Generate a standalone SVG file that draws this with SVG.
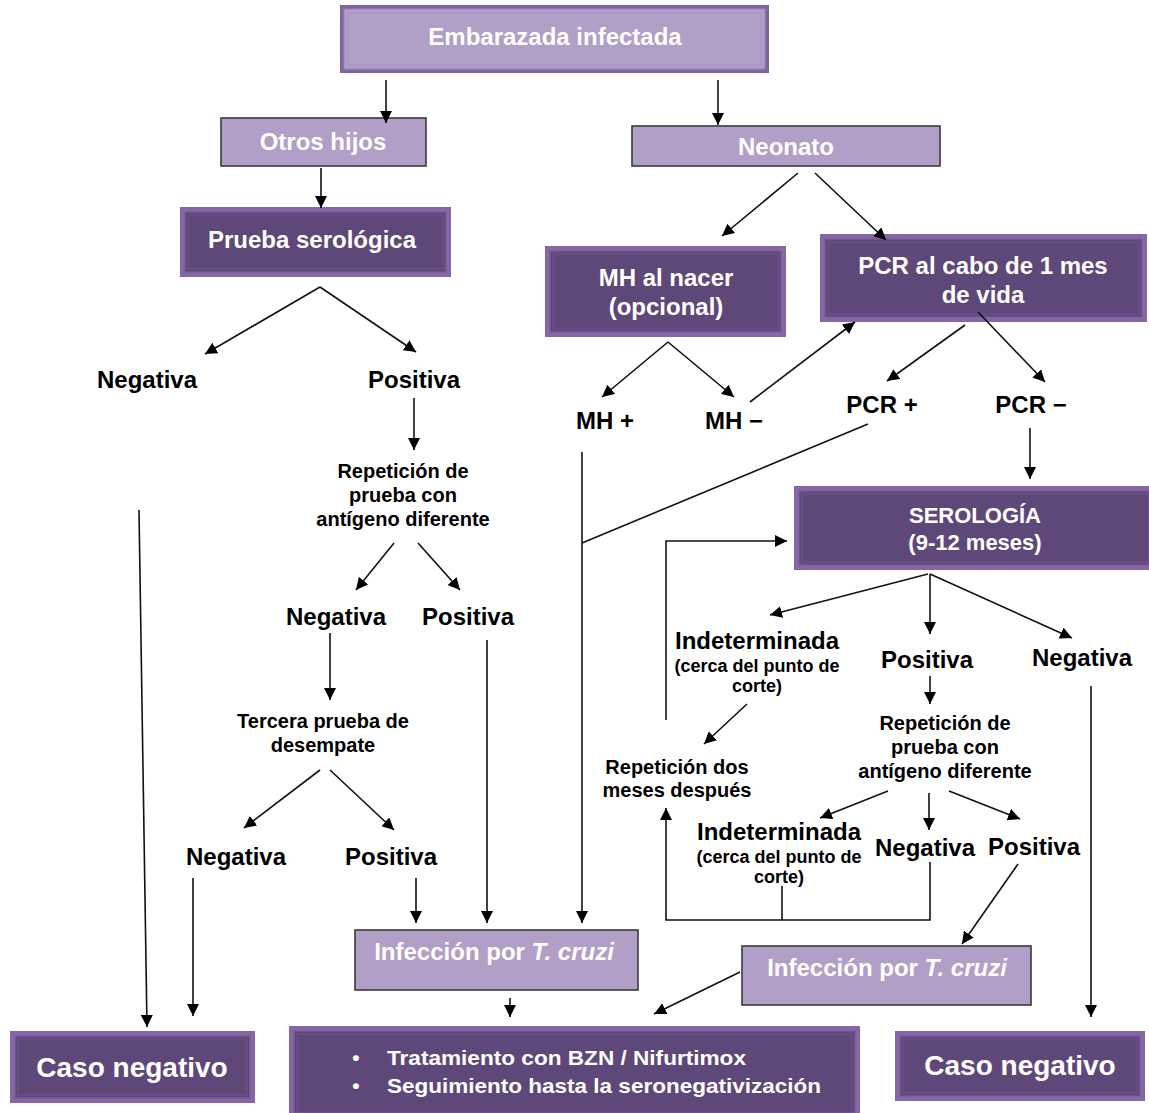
<svg xmlns="http://www.w3.org/2000/svg" width="1149" height="1113" viewBox="0 0 1149 1113">
<defs>
<marker id="ah" markerUnits="userSpaceOnUse" markerWidth="13" markerHeight="12" refX="12" refY="6" orient="auto">
<path d="M0,0 L12,6 L0,12 z" fill="#000"/>
</marker>
<style>
.lbl{font-family:"Liberation Sans",Arial,sans-serif;font-weight:bold;fill:#000;text-anchor:middle}
.big{font-size:24px}
.mid{font-size:20px}
.sm{font-size:18px}
.wt{font-family:"Liberation Sans",Arial,sans-serif;font-weight:bold;fill:#fff;text-anchor:middle;font-size:24px}
.lightbox{fill:#b19fc8;stroke:#3a3a3a;stroke-width:1.6}
.dkout{fill:#8667a6}
.dkin{fill:#5e4879;stroke:#7a5c9a;stroke-width:1.2}
.dkline{fill:none;stroke:#6e5390;stroke-width:1}
.ln{stroke:#111;stroke-width:1.6;fill:none}
.arr{stroke:#111;stroke-width:1.6;fill:none;marker-end:url(#ah)}
</style>
</defs>
<rect width="1149" height="1113" fill="#fff"/>

<g id="embarazada">
<rect x="340" y="5" width="429" height="68" fill="#8066a0"/>
<rect x="344" y="9" width="421" height="60" fill="#b09fc7" stroke="#9b85b9" stroke-width="1"/>
<rect x="348" y="13" width="413" height="52" fill="none" stroke="#a591be" stroke-width="1"/>
<text class="wt" x="555" y="45">Embarazada infectada</text>
</g>

<g id="otros-hijos">
<rect class="lightbox" x="221" y="118" width="205" height="48"/>
<text class="wt" x="323" y="150">Otros hijos</text>
</g>

<g id="neonato">
<rect class="lightbox" x="632" y="126" width="308" height="40"/>
<text class="wt" x="786" y="155">Neonato</text>
</g>

<g id="prueba-serologica">
<rect class="dkout" x="180" y="207" width="271" height="70"/>
<rect class="dkin" x="185" y="212" width="261" height="60"/>
<rect class="dkline" x="188" y="215" width="255" height="54"/>
<text class="wt" x="312" y="248">Prueba serológica</text>
</g>

<g id="mh-nacer">
<rect class="dkout" x="545" y="246" width="241" height="91"/>
<rect class="dkin" x="550" y="251" width="231" height="81"/>
<rect class="dkline" x="553" y="254" width="225" height="75"/>
<text class="wt" x="666" y="286">MH al nacer</text>
<text class="wt" x="666" y="315">(opcional)</text>
</g>

<g id="pcr-mes">
<rect class="dkout" x="820" y="234" width="327" height="88"/>
<rect class="dkin" x="825" y="239" width="317" height="78"/>
<rect class="dkline" x="828" y="242" width="311" height="72"/>
<text class="wt" x="983" y="274">PCR al cabo de 1 mes</text>
<text class="wt" x="983" y="303">de vida</text>
</g>

<g id="serologia">
<rect class="dkout" x="794" y="486" width="355" height="84"/>
<rect class="dkin" x="799" y="491" width="350" height="74"/>
<rect class="dkline" x="802" y="494" width="347" height="68"/>
<text class="wt" x="975" y="523" style="font-size:22px">SEROLOGÍA</text>
<text class="wt" x="975" y="550" style="font-size:22px">(9-12 meses)</text>
</g>

<g id="infeccion-izq">
<rect class="lightbox" x="355" y="930" width="283" height="60"/>
<text class="wt" x="494" y="960">Infección por <tspan font-style="italic">T. cruzi</tspan></text>
</g>

<g id="infeccion-der">
<rect class="lightbox" x="742" y="946" width="289" height="59"/>
<text class="wt" x="887" y="976">Infección por <tspan font-style="italic">T. cruzi</tspan></text>
</g>

<g id="caso-negativo-izq">
<rect class="dkout" x="10" y="1031" width="245" height="72"/>
<rect class="dkin" x="15" y="1036" width="235" height="62"/>
<rect class="dkline" x="18" y="1039" width="229" height="56"/>
<text class="wt" x="132" y="1077" style="font-size:28px">Caso negativo</text>
</g>

<g id="tratamiento">
<rect class="dkout" x="289" y="1026" width="571" height="87"/>
<rect class="dkin" x="294" y="1031" width="561" height="82"/>
<rect class="dkline" x="297" y="1034" width="555" height="79"/>
<text class="wt" x="356" y="1065" style="font-size:21px">•</text>
<text class="wt" x="387" y="1065" style="font-size:21px;text-anchor:start" textLength="359" lengthAdjust="spacingAndGlyphs">Tratamiento con BZN / Nifurtimox</text>
<text class="wt" x="356" y="1093" style="font-size:21px">•</text>
<text class="wt" x="387" y="1093" style="font-size:21px;text-anchor:start" textLength="434" lengthAdjust="spacingAndGlyphs">Seguimiento hasta la seronegativización</text>
</g>

<g id="caso-negativo-der">
<rect class="dkout" x="895" y="1031" width="250" height="70"/>
<rect class="dkin" x="900" y="1036" width="240" height="60"/>
<rect class="dkline" x="903" y="1039" width="234" height="54"/>
<text class="wt" x="1020" y="1075" style="font-size:28px">Caso negativo</text>
</g>

<g id="labels">
<text class="lbl big" x="147" y="388">Negativa</text>
<text class="lbl big" x="414" y="388">Positiva</text>
<text class="lbl mid" x="403" y="478">Repetición de</text>
<text class="lbl mid" x="403" y="502">prueba con</text>
<text class="lbl mid" x="403" y="526">antígeno diferente</text>
<text class="lbl big" x="336" y="625">Negativa</text>
<text class="lbl big" x="468" y="625">Positiva</text>
<text class="lbl mid" x="323" y="728">Tercera prueba de</text>
<text class="lbl mid" x="323" y="752">desempate</text>
<text class="lbl big" x="236" y="865">Negativa</text>
<text class="lbl big" x="391" y="865">Positiva</text>

<text class="lbl big" x="605" y="429">MH +</text>
<text class="lbl big" x="734" y="429">MH −</text>
<text class="lbl big" x="882" y="413">PCR +</text>
<text class="lbl big" x="1031" y="413">PCR −</text>

<text class="lbl big" x="757" y="649">Indeterminada</text>
<text class="lbl sm" x="757" y="672">(cerca del punto de</text>
<text class="lbl sm" x="757" y="692">corte)</text>
<text class="lbl big" x="927" y="668">Positiva</text>
<text class="lbl big" x="1082" y="666">Negativa</text>
<text class="lbl mid" x="677" y="774">Repetición dos</text>
<text class="lbl mid" x="677" y="797">meses después</text>
<text class="lbl mid" x="945" y="730">Repetición de</text>
<text class="lbl mid" x="945" y="754">prueba con</text>
<text class="lbl mid" x="945" y="778">antígeno diferente</text>
<text class="lbl big" x="779" y="840">Indeterminada</text>
<text class="lbl sm" x="779" y="863">(cerca del punto de</text>
<text class="lbl sm" x="779" y="883">corte)</text>
<text class="lbl big" x="925" y="856">Negativa</text>
<text class="lbl big" x="1034" y="855">Positiva</text>
</g>

<g id="connectors">
<line class="arr" x1="386" y1="80" x2="386" y2="123"/>
<line class="arr" x1="718" y1="80" x2="718" y2="125"/>
<line class="arr" x1="321" y1="168" x2="321" y2="208"/>
<line class="arr" x1="320" y1="287" x2="205" y2="354"/>
<line class="arr" x1="320" y1="287" x2="416" y2="352"/>
<line class="arr" x1="414" y1="398" x2="414" y2="450"/>
<line class="arr" x1="394" y1="543" x2="356" y2="590"/>
<line class="arr" x1="418" y1="543" x2="460" y2="590"/>
<line class="arr" x1="330" y1="633" x2="330" y2="700"/>
<line class="arr" x1="320" y1="770" x2="244" y2="828"/>
<line class="arr" x1="330" y1="770" x2="394" y2="830"/>
<line class="arr" x1="193" y1="878" x2="193" y2="1016"/>
<line class="arr" x1="416" y1="878" x2="416" y2="923"/>
<line class="arr" x1="487" y1="640" x2="487" y2="923"/>
<line class="arr" x1="139" y1="510" x2="147" y2="1027"/>
<line class="arr" x1="510" y1="998" x2="510" y2="1017"/>

<line class="arr" x1="798" y1="173" x2="722" y2="236"/>
<line class="arr" x1="815" y1="173" x2="886" y2="240"/>
<line class="arr" x1="668" y1="342" x2="602" y2="397"/>
<line class="arr" x1="668" y1="342" x2="734" y2="397"/>
<line class="arr" x1="750" y1="402" x2="855" y2="322"/>
<line class="arr" x1="965" y1="325" x2="887" y2="381"/>
<line class="arr" x1="978" y1="312" x2="1045" y2="382"/>
<line class="arr" x1="1030" y1="428" x2="1030" y2="479"/>
<line class="ln" x1="868" y1="424" x2="582" y2="543"/>
<line class="arr" x1="582" y1="452" x2="582" y2="923"/>

<line class="arr" x1="928" y1="574" x2="770" y2="615"/>
<line class="arr" x1="930" y1="574" x2="930" y2="634"/>
<line class="arr" x1="930" y1="574" x2="1072" y2="638"/>
<line class="arr" x1="747" y1="704" x2="704" y2="744"/>
<polyline class="arr" points="666,720 666,541 787,541"/>
<line class="arr" x1="930" y1="676" x2="930" y2="704"/>
<line class="arr" x1="888" y1="791" x2="820" y2="818"/>
<line class="arr" x1="929" y1="793" x2="929" y2="830"/>
<line class="arr" x1="949" y1="791" x2="1020" y2="819"/>
<line class="ln" x1="782" y1="886" x2="782" y2="920"/>
<polyline class="arr" points="930,862 930,920 666,920 666,808"/>
<line class="arr" x1="1018" y1="864" x2="962" y2="944"/>
<line class="arr" x1="740" y1="972" x2="654" y2="1014"/>
<line class="arr" x1="1091" y1="686" x2="1091" y2="1017"/>
</g>
</svg>
